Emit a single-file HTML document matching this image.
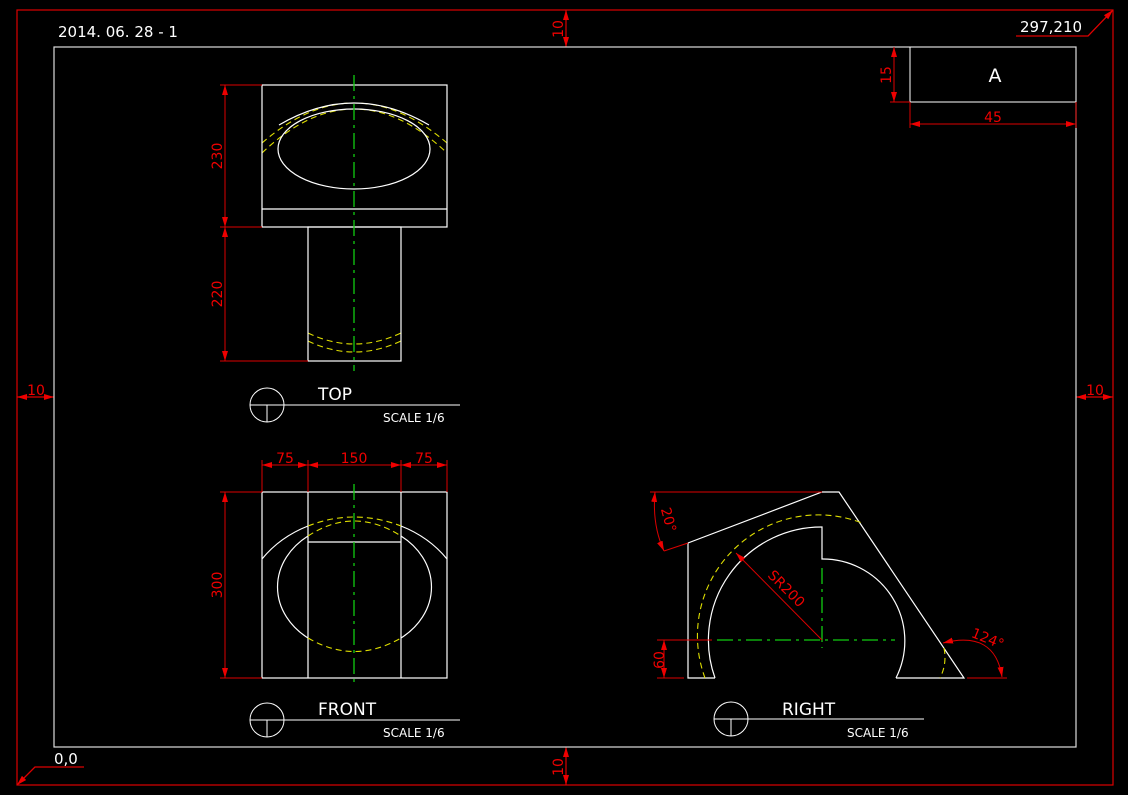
<!DOCTYPE html>
<html><head><meta charset="utf-8"><style>
html,body{margin:0;padding:0;background:#000;}
svg{display:block;}
text{font-family:"DejaVu Sans","Liberation Sans",sans-serif;}
</style></head><body>
<svg width="1128" height="795" viewBox="0 0 1128 795" xmlns="http://www.w3.org/2000/svg">
<defs>
<marker id="a" viewBox="0 0 10 6" refX="10" refY="3" markerWidth="10" markerHeight="6" orient="auto-start-reverse" markerUnits="userSpaceOnUse"><path d="M0,0L10,3L0,6z" fill="#e00"/></marker>
</defs>
<rect width="1128" height="795" fill="#000"/>
<g stroke="#d00" stroke-width="1.2" fill="none">
<rect x="17" y="10" width="1096" height="775"/>
<line x1="566" y1="10" x2="566" y2="47" marker-start="url(#a)" marker-end="url(#a)"/>
<line x1="566" y1="747" x2="566" y2="785" marker-start="url(#a)" marker-end="url(#a)"/>
<line x1="17" y1="397" x2="54" y2="397" marker-start="url(#a)" marker-end="url(#a)"/>
<line x1="1076" y1="397" x2="1113" y2="397" marker-start="url(#a)" marker-end="url(#a)"/>
<polyline points="1016,36 1088,36 1113,10"/>
<polyline points="84,767 35,767 17,785"/>
<line x1="1088" y1="36" x2="1113" y2="10" marker-end="url(#a)"/>
<line x1="35" y1="767" x2="17" y2="785" marker-end="url(#a)"/>
</g>
<g fill="#e00" font-size="14">
<text x="563" y="29" transform="rotate(-90 563 29)" text-anchor="middle">10</text>
<text x="563" y="767" transform="rotate(-90 563 767)" text-anchor="middle">10</text>
<text x="36" y="395" text-anchor="middle">10</text>
<text x="1095" y="395" text-anchor="middle">10</text>
</g>
<g fill="#fff" font-size="15">
<text x="58" y="37">2014. 06. 28 - 1</text>
<text x="1020" y="32">297,210</text>
<text x="54" y="764">0,0</text>
</g>
<rect x="54" y="47" width="1022" height="700" fill="none" stroke="#ddd" stroke-width="1.2"/>
<g stroke="#fff" fill="none" stroke-width="1"><line x1="910" y1="47" x2="910" y2="102"/><line x1="910" y1="102" x2="1076" y2="102"/></g>
<text x="995" y="82" fill="#fff" font-size="19" text-anchor="middle">A</text>
<g stroke="#d00" fill="none" stroke-width="1">
<line x1="894" y1="47" x2="894" y2="102" marker-start="url(#a)" marker-end="url(#a)"/>
<line x1="890" y1="102" x2="910" y2="102"/>
<line x1="910" y1="124" x2="1076" y2="124" marker-start="url(#a)" marker-end="url(#a)"/>
<line x1="910" y1="102" x2="910" y2="128"/><line x1="1076" y1="102" x2="1076" y2="128"/>
</g>
<g fill="#e00" font-size="14"><text x="891" y="75" transform="rotate(-90 891 75)" text-anchor="middle">15</text><text x="993" y="122" text-anchor="middle">45</text></g>

<!-- TOP view -->
<g stroke="#dd0" fill="none" stroke-width="1.1" stroke-dasharray="6,4">
<path d="M262,143 Q354,63 447,143"/>
<path d="M262,153 Q354,65 447,153"/>
<path d="M308,333 Q354,355 401,333"/>
<path d="M308,341 Q354,363 401,341"/>
</g>
<g stroke="#fff" fill="none" stroke-width="1.2">
<rect x="262" y="85" width="185" height="142"/>
<line x1="262" y1="209" x2="447" y2="209"/>
<rect x="308" y="227" width="93" height="134"/>
<ellipse cx="354" cy="149" rx="76" ry="40"/>
<path d="M279,125 Q354,81 429,125"/>
</g>
<line x1="354" y1="75" x2="354" y2="371" stroke="#1c1" stroke-width="1.3" stroke-dasharray="16,5,3,5"/>
<g stroke="#d00" fill="none" stroke-width="1">
<line x1="225" y1="85" x2="225" y2="227" marker-start="url(#a)" marker-end="url(#a)"/>
<line x1="225" y1="227" x2="225" y2="361" marker-start="url(#a)" marker-end="url(#a)"/>
<line x1="220" y1="85" x2="262" y2="85"/><line x1="220" y1="227" x2="262" y2="227"/><line x1="220" y1="361" x2="308" y2="361"/>
</g>
<g fill="#e00" font-size="14"><text x="222" y="156" transform="rotate(-90 222 156)" text-anchor="middle">230</text><text x="222" y="294" transform="rotate(-90 222 294)" text-anchor="middle">220</text></g>

<!-- FRONT view -->
<g stroke="#fff" fill="none" stroke-width="1.2">
<rect x="262" y="492" width="185" height="186"/>
<line x1="308" y1="492" x2="308" y2="678"/><line x1="401" y1="492" x2="401" y2="678"/>
<line x1="308" y1="542" x2="401" y2="542"/>
<path d="M308,638 A77,64 0 0 1 308,536"/>
<path d="M401,536 A77,64 0 0 1 401,638"/>
<path d="M262,559 Q280,537 308,526"/>
<path d="M401,526 Q429,537 447,559"/>
</g>
<g stroke="#dd0" fill="none" stroke-width="1.1" stroke-dasharray="6,4">
<path d="M308,526 Q354,508 401,526"/>
<path d="M308,536 Q354,506 401,536"/>
<path d="M308,638 Q354,665 401,638"/>
</g>
<line x1="354" y1="484" x2="354" y2="687" stroke="#1c1" stroke-width="1.3" stroke-dasharray="16,5,3,5"/>
<g stroke="#d00" fill="none" stroke-width="1">
<line x1="262" y1="465" x2="308" y2="465" marker-start="url(#a)" marker-end="url(#a)"/>
<line x1="308" y1="465" x2="401" y2="465" marker-start="url(#a)" marker-end="url(#a)"/>
<line x1="401" y1="465" x2="447" y2="465" marker-start="url(#a)" marker-end="url(#a)"/>
<line x1="262" y1="460" x2="262" y2="492"/><line x1="308" y1="460" x2="308" y2="492"/><line x1="401" y1="460" x2="401" y2="492"/><line x1="447" y1="460" x2="447" y2="492"/>
<line x1="225" y1="492" x2="225" y2="678" marker-start="url(#a)" marker-end="url(#a)"/>
<line x1="220" y1="492" x2="262" y2="492"/><line x1="220" y1="678" x2="262" y2="678"/>
</g>
<g fill="#e00" font-size="14"><text x="285" y="463" text-anchor="middle">75</text><text x="354" y="463" text-anchor="middle">150</text><text x="424" y="463" text-anchor="middle">75</text><text x="222" y="585" transform="rotate(-90 222 585)" text-anchor="middle">300</text></g>

<!-- RIGHT view -->
<g stroke="#fff" fill="none" stroke-width="1.2">
<polyline points="715,678 688,678 688,543 822,492 839,492 964,678 896,678"/>
<path d="M896,678 A82,82 0 0 0 822,559 L822,527 A113,113 0 0 0 715,678"/>
</g>
<g stroke="#dd0" fill="none" stroke-width="1.1" stroke-dasharray="6,4">
<path d="M705,678 A121,121 0 0 1 862,523"/>
<path d="M944,648 A45,45 0 0 1 940,678"/>
</g>
<g stroke="#1c1" stroke-width="1.3" stroke-dasharray="16,5,3,5"><line x1="717" y1="640" x2="895" y2="640"/><line x1="822" y1="568" x2="822" y2="648"/></g>
<g stroke="#d00" fill="none" stroke-width="1">
<line x1="822" y1="640" x2="736" y2="553" marker-end="url(#a)"/>
<line x1="650" y1="492" x2="822" y2="492"/>
<path d="M655,492 Q652,525 664,551" marker-start="url(#a)" marker-end="url(#a)"/>
<line x1="664" y1="551" x2="688" y2="543"/>
<line x1="664" y1="640" x2="664" y2="678" marker-start="url(#a)" marker-end="url(#a)"/>
<line x1="657" y1="640" x2="712" y2="640"/><line x1="657" y1="678" x2="684" y2="678"/>
<path d="M943,643 Q995,630 1002,677" marker-start="url(#a)" marker-end="url(#a)"/>
<line x1="967" y1="678" x2="1007" y2="678"/>
</g>
<g fill="#e00" font-size="14">
<text x="783" y="592" transform="rotate(45 783 592)" text-anchor="middle">SR200</text>
<text x="664" y="521" transform="rotate(75 664 521)" text-anchor="middle">20°</text>
<text x="664" y="660" transform="rotate(-90 664 660)" text-anchor="middle">60</text>
<text x="986" y="643" transform="rotate(22 986 643)" text-anchor="middle">124°</text>
</g>

<g stroke="#fff" fill="none" stroke-width="1">
<circle cx="267" cy="405" r="17"/><line x1="250" y1="405" x2="460" y2="405"/><line x1="267" y1="405" x2="267" y2="422"/>
<circle cx="267" cy="720" r="17"/><line x1="250" y1="720" x2="460" y2="720"/><line x1="267" y1="720" x2="267" y2="737"/>
<circle cx="731" cy="719" r="17"/><line x1="714" y1="719" x2="924" y2="719"/><line x1="731" y1="719" x2="731" y2="736"/>
</g>
<g fill="#fff">
<text x="318" y="400" font-size="17">TOP</text><text x="383" y="422" font-size="12">SCALE 1/6</text>
<text x="318" y="715" font-size="17">FRONT</text><text x="383" y="737" font-size="12">SCALE 1/6</text>
<text x="782" y="715" font-size="17">RIGHT</text><text x="847" y="737" font-size="12">SCALE 1/6</text>
</g>
</svg>
</body></html>
